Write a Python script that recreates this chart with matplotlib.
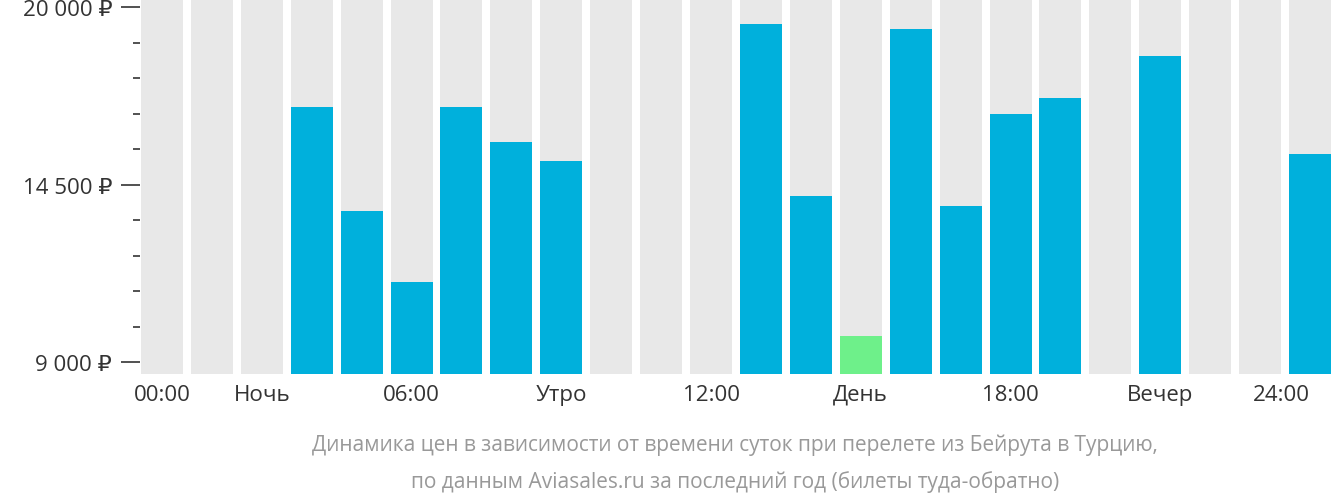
import matplotlib
matplotlib.use("Agg")
import matplotlib.pyplot as plt
from matplotlib.ticker import FixedLocator

plt.rcParams["font.family"] = ["Open Sans", "DejaVu Sans"]

# prices per hour slot (None = no data)
hours = list(range(24))
prices = [None, None, None, 16900, 13680, 11480, 16900, 15820, 15230, None, None, None,
          19470, 14140, 9800, 19320, 13830, 16680, 17180, None, 18480, None, None, 15450]
cheapest = 14
tick_pos = [0, 2, 5, 8, 11, 14, 17, 20, 23]
tick_labels = ["00:00", "Ночь", "06:00", "Утро", "12:00", "День", "18:00", "Вечер", "24:00"]
y_major = [9000, 14500, 20000]
y_major_labels = ["9 000 ₽", "14 500 ₽", "20 000 ₽"]

YMIN, YMAX = 8630, 20250

fig = plt.figure(figsize=(13.32, 5.02), dpi=100)
ax = fig.add_axes([140 / 1332, 127 / 502, 1192 / 1332, 375 / 502])

ax.bar(hours, [YMAX - YMIN] * 24, bottom=YMIN, width=0.84, color="#e8e8e8")
vals = [p if p is not None else YMIN for p in prices]
cols = ["#6ef08a" if i == cheapest else "#00b0dc" for i in hours]
ax.bar(hours, [v - YMIN for v in vals], bottom=YMIN, width=0.84, color=cols)

ax.set_xlim(-0.44, 23.44)
ax.set_ylim(YMIN, YMAX)
for s in ax.spines.values():
    s.set_visible(False)

ax.set_yticks(y_major)
ax.set_yticklabels(y_major_labels, fontsize=16, color="#333333")
ax.yaxis.set_minor_locator(FixedLocator([9000 + 1100 * k for k in range(11) if k % 5]))
ax.tick_params(axis="y", which="major", length=14, width=1.2, color="#333333", pad=6)
ax.tick_params(axis="y", which="minor", length=5, width=1.2, color="#333333")

ax.set_xticks(tick_pos)
ax.set_xticklabels(tick_labels, fontsize=16, color="#333333")
ax.tick_params(axis="x", length=0, pad=7)
ax.get_xticklabels()[-1].set_horizontalalignment("right")
ax.get_xticklabels()[-1].set_x(23.44)
for lbl in ax.get_xticklabels()[:1]:
    pass

fig.text(735 / 1332, 0.113, "Динамика цен в зависимости от времени суток при перелете из Бейрута в Турцию,",
         ha="center", va="center", fontsize=15, color="#999999")
fig.text(735 / 1332, 0.04, "по данным Aviasales.ru за последний год (билеты туда-обратно)",
         ha="center", va="center", fontsize=15, color="#999999")

fig.savefig("out.png", dpi=100)
